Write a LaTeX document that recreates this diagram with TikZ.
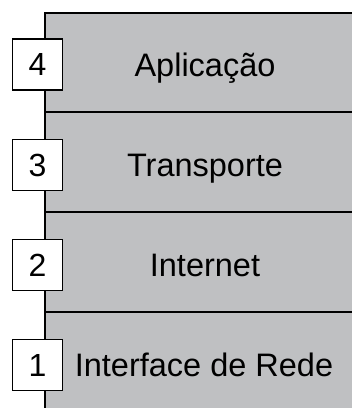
\documentclass[tikz,border=0pt]{standalone}
\usepackage{fontspec}
\setmainfont{Liberation Sans}
\definecolor{layergray}{RGB}{191,192,194}
\begin{document}
\begin{tikzpicture}[x=1pt,y=-1pt,line width=1.5pt,
  layerbox/.style={fill=layergray,draw=black},
  numbox/.style={draw=black,fill=white,minimum width=50pt,minimum height=51pt,inner sep=0pt,font=\fontsize{32}{36}\selectfont},
  layertext/.style={anchor=base,inner sep=0pt,font=\fontsize{32.5}{38}\selectfont}]
\useasboundingbox (0,0) rectangle (352,408);
% layers
\path[layerbox] (45,13) rectangle (370,112);
\path[layerbox] (45,112) rectangle (370,212);
\path[layerbox] (45,212) rectangle (370,312);
\path[layerbox] (45,312) rectangle (370,420);
% number boxes
\node[numbox] (n4) at (37.4,64.5) {4};
\node[numbox] (n3) at (37.4,165) {3};
\node[numbox] (n2) at (37.4,265) {2};
\node[numbox] (n1) at (37.4,365) {1};
% labels
\node[layertext] (l4) at (205,76) {Aplicação};
\node[layertext] (l3) at (205,176.5) {Transporte};
\node[layertext] (l2) at (205,276.5) {Internet};
\node[layertext] (l1) at (204,376) {Interface de Rede};
\end{tikzpicture}
\end{document}
